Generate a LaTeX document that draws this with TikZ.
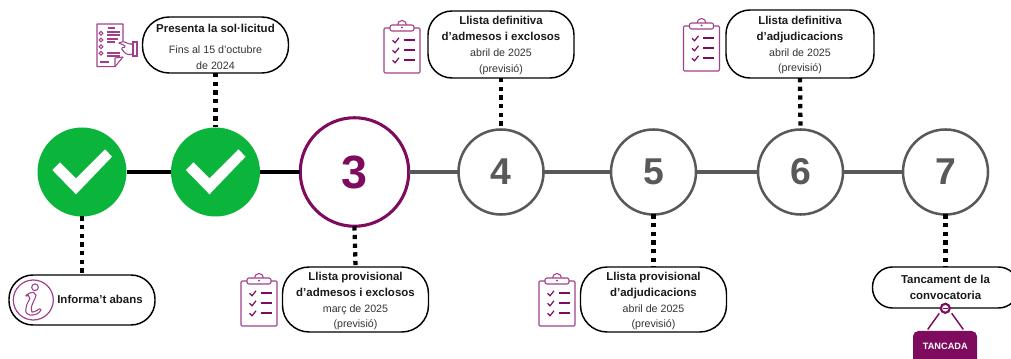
\documentclass[tikz,border=0pt]{standalone}
\usepackage{fontspec}
\setmainfont{Liberation Sans}
\definecolor{mag}{HTML}{7F0B5E}
\definecolor{icon}{HTML}{A0408A}
\definecolor{okgreen}{HTML}{0BB53C}
\definecolor{stepgray}{HTML}{595959}
\definecolor{inktext}{HTML}{1A1A1A}
\definecolor{softtext}{HTML}{333333}
\newcommand{\tit}[1]{{\fontsize{8.6}{12}\selectfont\bfseries\color{inktext}#1}}
\newcommand{\sub}[1]{{\fontsize{8}{12}\selectfont\color{softtext}#1}}
\newcommand{\dn}[1]{\rule{0pt}{#1}}
\tikzset{
  x=0.75pt,y=-0.75pt,
  donestep/.style={circle,fill=okgreen,inner sep=0pt,outer sep=0pt,minimum size=89*0.75pt},
  nowstep/.style={circle,draw=mag,line width=2.3pt,fill=white,inner sep=0pt,outer sep=0pt,minimum size=108.5*0.75pt,text=mag,font=\fontsize{35}{35}\selectfont\bfseries},
  nextstep/.style={circle,draw=stepgray,line width=1.9pt,fill=white,inner sep=0pt,outer sep=0pt,minimum size=85*0.75pt,text=stepgray,font=\fontsize{28}{28}\selectfont\bfseries},
  infobox/.style={draw=black,line width=1.1pt,fill=white,align=center,inner sep=0pt,outer sep=0pt,minimum width=146*0.75pt},
  donelink/.style={black,line width=3.2pt},
  nextlink/.style={stepgray,line width=3.4pt},
  dotlink/.style={black,line width=3.2pt,dash pattern=on 3.2pt off 3.3pt},
  checkmark/.style={fill=white,draw=none},
  iconline/.style={icon,line width=0.8pt},
  clipboard/.pic={
    \draw[iconline,rounded corners=0.8pt] (0,7) rectangle (36,52);
    \draw[iconline,fill=white] (13.5,4) arc[start angle=180,end angle=0,radius=4.5*0.75pt] ;
    \draw[iconline,fill=white,rounded corners=1.5pt] (6,4) rectangle (30,10);
    \fill[mag] (18,6.5) circle[radius=0.6pt];
    \foreach \r in {19.3,29.3,39.3}{
      \draw[mag,line width=0.9pt] (8.5,\r) -- (11,\r+2.5) -- (15,\r-2.5);
      \draw[mag,line width=1.2pt] (19.7,\r) -- (30.7,\r);
    }
  }
}
\begin{document}
\begin{tikzpicture}
\useasboundingbox (0,0) rectangle (1011,359);
\clip (0,0) rectangle (1011,359);
% step circles
\node[donestep] (s1) at (82,172) {};
\node[donestep] (s2) at (215.5,172) {};
\node[nowstep] (s3) at (354.5,172) {3};
\node[nextstep] (s4) at (501,172) {4};
\node[nextstep] (s5) at (653.5,172) {5};
\node[nextstep] (s6) at (800.5,172) {6};
\node[nextstep] (s7) at (945.5,172) {7};
% check marks
\foreach \c in {s1,s2}{
  \fill[checkmark] ([shift={(-29.7,-2)}]\c.center) -- ([shift={(-22,-9.7)}]\c.center) -- ([shift={(-6,6.3)}]\c.center) -- ([shift={(23,-22.7)}]\c.center) -- ([shift={(30,-15.3)}]\c.center) -- ([shift={(-6,22.3)}]\c.center) -- cycle;
}
% boxes
\node[infobox,minimum height=50*0.75pt,rounded corners=18pt] (binfo) at (82,300) {};
\node[inner sep=0pt] (tinfo) at (100,299) {\tit{Informa’t abans}};
\node[infobox,minimum height=56*0.75pt,rounded corners=20pt] (bsol) at (215.5,45) {\dn{9.2pt}\tit{Presenta la sol·licitud}\\[3.75pt]\sub{Fins al 15 d’octubre}\\\sub{de 2024}};
\node[infobox,minimum height=65*0.75pt,rounded corners=20pt] (bpa) at (355.5,299.5) {\dn{8.4pt}\tit{Llista provisional}\\\tit{d’admesos i exclosos}\\\sub{març de 2025}\\[-1pt]\sub{(previsió)}};
\node[infobox,minimum height=67*0.75pt,rounded corners=18pt] (bda) at (501,44.5) {\dn{7.7pt}\tit{Llista definitiva}\\\tit{d’admesos i exclosos}\\\sub{abril de 2025}\\[-0.2pt]\sub{(previsió)}};
\node[infobox,minimum height=65*0.75pt,rounded corners=20pt] (bpj) at (653.5,299.5) {\dn{8.4pt}\tit{Llista provisional}\\\tit{d’adjudicacions}\\\sub{abril de 2025}\\[-1pt]\sub{(previsió)}};
\node[infobox,minimum height=68*0.75pt,minimum width=148*0.75pt,rounded corners=18pt] (bdj) at (800,44) {\dn{7.7pt}\tit{Llista definitiva}\\\tit{d’adjudicacions}\\\sub{abril de 2025}\\[-0.2pt]\sub{(previsió)}};
\node[infobox,minimum height=41*0.75pt,rounded corners=15pt] (btc) at (945.5,287.5) {\tit{Tancament de la}\\\tit{convocatoria}};
% connectors
\draw[donelink] (s1) -- (s2);
\draw[donelink] (s2) -- (s3);
\draw[nextlink] (s3) -- (s4);
\draw[nextlink] (s4) -- (s5);
\draw[nextlink] (s5) -- (s6);
\draw[nextlink] (s6) -- (s7);
\draw[dotlink] (s1.south) -- (binfo.north);
\draw[dotlink] (bsol.south) -- (s2.north);
\draw[dotlink] (s3.south) -- (bpa.north);
\draw[dotlink] (bda.south) -- (s4.north);
\draw[dotlink] (s5.south) -- (bpj.north);
\draw[dotlink] (bdj.south) -- (s6.north);
\draw[dotlink] (s7.south) -- (btc.north);
% closed sign
\node[circle,draw=mag,line width=1.6pt,fill=white,minimum size=9*0.75pt,inner sep=0pt,outer sep=0pt] (ring) at (945.3,308.3) {};
\fill[mag] (942.8,307.6) rectangle (947.8,309);
\node[fill=mag,rounded corners=4pt,minimum width=64*0.75pt,minimum height=44*0.75pt,inner sep=0pt,outer sep=0pt,yshift=0pt] (tag) at (945,353) {};
\node[inner sep=0pt,text=white,font=\fontsize{6.9}{8}\selectfont\bfseries] (tagt) at (945.3,346.7) {TANCADA};
\coordinate (la) at (939.3,313.3);
\coordinate (lb) at (927.7,329.5);
\coordinate (ra) at (951.7,313.3);
\coordinate (rb) at (963.3,329.5);
\draw[mag,line width=1.1pt] (la) -- (lb);
\draw[mag,line width=1.1pt] (ra) -- (rb);
% clipboards
\pic at (241,274) {clipboard};
\pic at (539,274) {clipboard};
\pic at (384,21) {clipboard};
\pic at (683.5,19) {clipboard};
% info icon
\draw[icon,line width=0.9pt] (33.3,300) circle[radius=15pt];
\draw[icon,line width=0.8pt] (35,287.3) circle[radius=2.5pt];
\draw[icon,line width=0.8pt,rounded corners=1.5pt]
  (25.5,296) .. controls (28,293) and (33,292) .. (35,293.5)
  .. controls (36.5,296) and (31,306) .. (31.5,310)
  .. controls (32,312.5) and (37,311) .. (40,308)
  .. controls (41,310) and (39,313.5) .. (35,314.5)
  .. controls (29,316) and (25.5,313) .. (26,309)
  .. controls (26.5,304) and (30,299) .. (29.5,296.5)
  .. controls (28.5,295.5) and (27,296.5) .. (25.5,296);
% document and hand icon
\draw[iconline,line join=round] (123,44) -- (123,24) -- (97,24) -- (97,66.7) -- (115,66.7) -- (123,57);
\draw[iconline,line join=round] (115,66.7) -- (115,58) -- (123,57);
\foreach \r in {33.3,40,46.7,53.3}{
  \draw[iconline] (101,\r) circle[radius=1.4pt];
}
\draw[iconline] (108,28) -- (115,28);
\draw[iconline,line width=1pt] (107,32) -- (120,32) (107,35) -- (120,35) (107,39) -- (118,39) (107,42) -- (115,42) (107,53) -- (120,53) (107,56) -- (120,56);
\draw[iconline] (100,62) -- (109,62);
\draw[iconline,fill=white,rounded corners=1pt] (118,43) -- (124,41.5) -- (129,44) -- (133,44) -- (133,54.5) -- (127,54.5) -- (124,52) -- (121,48) -- (126,47) -- (123,44.5) -- cycle;
\draw[iconline,fill=white] (133,42) rectangle (137,56);
\end{tikzpicture}
\end{document}
